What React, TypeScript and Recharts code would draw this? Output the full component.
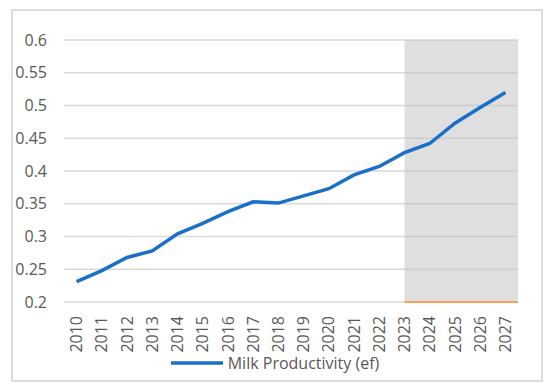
import React from 'react';
import { LineChart, Line, XAxis, YAxis, CartesianGrid, Legend, ReferenceArea } from 'recharts';

const years = ['2010', '2011', '2012', '2013', '2014', '2015', '2016', '2017', '2018', '2019', '2020', '2021', '2022', '2023', '2024', '2025', '2026', '2027'];
const milkProductivity = [0.231, 0.248, 0.268, 0.278, 0.304, 0.32, 0.338, 0.353, 0.351, 0.362, 0.373, 0.394, 0.407, 0.428, 0.442, 0.473, 0.497, 0.52];
const yTicks = [0.2, 0.25, 0.3, 0.35, 0.4, 0.45, 0.5, 0.55, 0.6];
const forecastStart = '2023';

const data = years.map((year, i) => ({ year, value: milkProductivity[i] }));
// number of category bands covered by the shaded forecast area
const forecastBands = years.length - years.indexOf(forecastStart);

const FONT = "'Open Sans', sans-serif";
const TEXT = '#595959';
const BLUE = '#1a70c8';

const YearTick = (props: any) => {
  const { x, y, payload } = props;
  return (
    <g transform={`translate(${x},${y + 6})`}>
      <text transform="rotate(-90)" textAnchor="end" dy="0.35em" fill={TEXT} fontSize={16} fontFamily={FONT}>
        {payload.value}
      </text>
    </g>
  );
};

// shade starts in the middle of the forecast start year's band
const ForecastShade = (props: any) => {
  const { x, y, width, height } = props;
  const half = width / forecastBands / 2;
  return (
    <g>
      <rect x={x + half} y={y} width={width - half} height={height} fill="#bfbfbf" fillOpacity={0.5} />
      <line x1={x + half} x2={x + width} y1={y + height} y2={y + height} stroke="#f4a460" strokeWidth={2} />
    </g>
  );
};

const LegendContent = () => (
  <div style={{ display: 'flex', justifyContent: 'center', alignItems: 'center', fontFamily: FONT, fontSize: 16, color: TEXT }}>
    <svg width={52} height={10} style={{ marginRight: 5 }}>
      <line x1={0} x2={52} y1={5} y2={5} stroke={BLUE} strokeWidth={3.5} />
    </svg>
    <span>Milk Productivity (ef)</span>
  </div>
);

const App: React.FC = () => {
  return (
    <div style={{ position: 'absolute', left: 0, top: 0, width: 550, height: 389, background: '#fff' }}>
      <div style={{ position: 'absolute', left: 11, top: 9, width: 528, height: 369, border: '2px solid #dcdcdc' }} />
      <div style={{ position: 'absolute', left: 0, top: 0 }}>
        <LineChart width={550} height={389} data={data} margin={{ top: 40, right: 32, left: 0, bottom: 15 }}>
          <CartesianGrid vertical={false} stroke="#d9d9d9" strokeWidth={1.5} />
          <ReferenceArea x1={forecastStart} y1={0.2} y2={0.6} shape={<ForecastShade />} ifOverflow="visible" />
          <XAxis
            dataKey="year"
            scale="band"
            axisLine={false}
            tickLine={false}
            interval={0}
            height={50}
            tick={<YearTick />}
          />
          <YAxis
            domain={[0.2, 0.6]}
            ticks={yTicks}
            axisLine={false}
            tickLine={false}
            width={64}
            tickMargin={11}
            tick={{ fill: TEXT, fontSize: 16, fontFamily: FONT }}
          />
          <Legend
            verticalAlign="bottom"
            height={22}
            content={<LegendContent />}
            wrapperStyle={{ left: 0, width: 550 }}
          />
          <Line
            type="linear"
            dataKey="value"
            stroke={BLUE}
            strokeWidth={3.5}
            dot={false}
            isAnimationActive={false}
          />
        </LineChart>
      </div>
    </div>
  );
};

export default App;
